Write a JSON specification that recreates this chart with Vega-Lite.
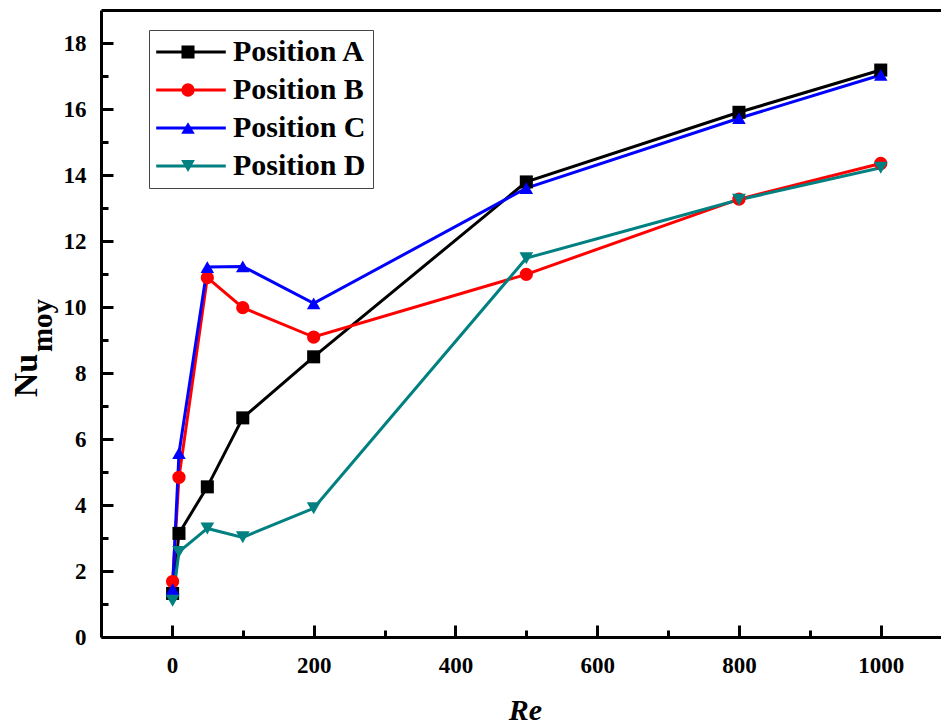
{
  "$schema": "https://vega.github.io/schema/vega-lite/v6.json",
  "width": 840,
  "height": 627,
  "autosize": {"type": "none"},
  "padding": {"left": 101, "top": 10, "right": 0, "bottom": 87},
  "background": "white",
  "config": {
    "view": {"stroke": null},
    "font": "Times New Roman, Liberation Serif, DejaVu Serif, serif",
    "axis": {
      "grid": false,
      "labelFont": "Times New Roman, Liberation Serif, DejaVu Serif, serif",
      "labelFontSize": 23,
      "labelFontWeight": "bold",
      "labelColor": "black",
      "domainColor": "black",
      "tickColor": "black",
      "domainWidth": 3,
      "tickWidth": 3,
      "titleFont": "Times New Roman, Liberation Serif, DejaVu Serif, serif",
      "titleColor": "black",
      "titleFontWeight": "bold"
    },
    "legend": {
      "labelFont": "Times New Roman, Liberation Serif, DejaVu Serif, serif"
    }
  },
  "data": {
    "values": [
      {"series": "Position A", "Re": 1, "Nu": 1.32},
      {"series": "Position A", "Re": 10, "Nu": 3.14},
      {"series": "Position A", "Re": 50, "Nu": 4.55},
      {"series": "Position A", "Re": 100, "Nu": 6.64},
      {"series": "Position A", "Re": 200, "Nu": 8.49},
      {"series": "Position A", "Re": 500, "Nu": 13.79},
      {"series": "Position A", "Re": 800, "Nu": 15.9},
      {"series": "Position A", "Re": 1000, "Nu": 17.18},
      {"series": "Position B", "Re": 1, "Nu": 1.68},
      {"series": "Position B", "Re": 10, "Nu": 4.84},
      {"series": "Position B", "Re": 50, "Nu": 10.89},
      {"series": "Position B", "Re": 100, "Nu": 9.98},
      {"series": "Position B", "Re": 200, "Nu": 9.09},
      {"series": "Position B", "Re": 500, "Nu": 10.99},
      {"series": "Position B", "Re": 800, "Nu": 13.27},
      {"series": "Position B", "Re": 1000, "Nu": 14.35},
      {"series": "Position C", "Re": 1, "Nu": 1.45},
      {"series": "Position C", "Re": 10, "Nu": 5.57},
      {"series": "Position C", "Re": 50, "Nu": 11.21},
      {"series": "Position C", "Re": 100, "Nu": 11.23},
      {"series": "Position C", "Re": 200, "Nu": 10.11},
      {"series": "Position C", "Re": 500, "Nu": 13.6},
      {"series": "Position C", "Re": 800, "Nu": 15.72},
      {"series": "Position C", "Re": 1000, "Nu": 17.03},
      {"series": "Position D", "Re": 1, "Nu": 1.1},
      {"series": "Position D", "Re": 10, "Nu": 2.58},
      {"series": "Position D", "Re": 50, "Nu": 3.29},
      {"series": "Position D", "Re": 100, "Nu": 3.02},
      {"series": "Position D", "Re": 200, "Nu": 3.9},
      {"series": "Position D", "Re": 500, "Nu": 11.48},
      {"series": "Position D", "Re": 800, "Nu": 13.25},
      {"series": "Position D", "Re": 1000, "Nu": 14.22}
    ]
  },
  "layer": [
    {
      "mark": {"type": "line", "strokeWidth": 3},
      "encoding": {
        "x": {
          "field": "Re", "type": "quantitative",
          "scale": {"domain": [-100, 1085], "nice": false, "zero": false},
          "axis": {
            "orient": "bottom",
            "values": [0, 200, 400, 600, 800, 1000],
            "format": "d",
            "tickSize": -12,
            "labelPadding": 29,
            "title": "Re",
            "titleFontSize": 30,
            "titleFontStyle": "italic",
            "titleX": 424,
            "titleY": 82,
            "titleAlign": "center",
            "titleBaseline": "alphabetic"
          }
        },
        "y": {
          "field": "Nu", "type": "quantitative",
          "scale": {"domain": [0, 19], "nice": false},
          "axis": {
            "orient": "left",
            "values": [0, 2, 4, 6, 8, 10, 12, 14, 16, 18],
            "format": "d",
            "tickSize": -12,
            "labelPadding": 27,
            "title": "Nu",
            "titleFontSize": 34,
            "titleAngle": 270,
            "titleX": -65,
            "titleY": 365,
            "titleAlign": "center",
            "titleBaseline": "alphabetic"
          }
        },
        "color": {
          "field": "series", "type": "nominal",
          "scale": {
            "domain": ["Position A", "Position B", "Position C", "Position D"],
            "range": ["#000000", "#FF0000", "#0000FF", "#008080"]
          },
          "legend": {
            "title": null,
            "orient": "none",
            "legendX": 48,
            "legendY": 20,
            "padding": 7,
            "symbolType": "M-5.8,0H5.8",
            "symbolSize": 144,
            "symbolStrokeWidth": 3,
            "symbolOffset": 20,
            "labelOffset": 27,
            "rowPadding": 8,
            "strokeColor": "#444444",
            "labelFontSize": 30,
            "labelFontWeight": "bold",
            "labelColor": "black",
            "zindex": 1
          }
        }
      }
    },
    {
      "mark": {"type": "point", "filled": true, "opacity": 1},
      "encoding": {
        "x": {
          "field": "Re", "type": "quantitative",
          "axis": {"orient": "top", "ticks": false, "labels": false, "title": null, "domain": true}
        },
        "y": {
          "field": "Nu", "type": "quantitative",
          "axis": {
            "orient": "left",
            "values": [1, 3, 5, 7, 9, 11, 13, 15, 17],
            "tickSize": -7,
            "labels": false,
            "domain": false,
            "title": "moy",
            "titleFontSize": 29,
            "titleAngle": 270,
            "titleX": -50,
            "titleY": 315,
            "titleAlign": "center",
            "titleBaseline": "alphabetic"
          }
        },
        "fill": {
          "field": "series", "type": "nominal",
          "scale": {"range": ["#000000", "#FF0000", "#0000FF", "#008080"]},
          "legend": {
            "title": null,
            "orient": "none",
            "legendX": 48,
            "legendY": 20,
            "padding": 7,
            "symbolOffset": 17,
            "labelOffset": 8,
            "rowPadding": 8,
            "labelFontSize": 30,
            "labelFontWeight": "bold",
            "labelExpr": "' '",
            "labelOpacity": 0,
            "symbolOpacity": 1,
            "zindex": 2
          }
        },
        "shape": {
          "field": "series", "type": "nominal",
          "scale": {"range": ["square", "circle", "triangle-up", "triangle-down"]},
          "legend": {
            "title": null,
            "orient": "none",
            "legendX": 48,
            "legendY": 20,
            "padding": 7,
            "symbolOffset": 17,
            "labelOffset": 8,
            "rowPadding": 8,
            "labelFontSize": 30,
            "labelFontWeight": "bold",
            "labelExpr": "' '",
            "labelOpacity": 0,
            "symbolOpacity": 1,
            "zindex": 2
          }
        },
        "size": {
          "field": "series", "type": "nominal",
          "scale": {"range": [170, 190, 310, 310]},
          "legend": {
            "title": null,
            "orient": "none",
            "legendX": 48,
            "legendY": 20,
            "padding": 7,
            "symbolOffset": 17,
            "labelOffset": 8,
            "rowPadding": 8,
            "labelFontSize": 30,
            "labelFontWeight": "bold",
            "labelExpr": "' '",
            "labelOpacity": 0,
            "symbolOpacity": 1,
            "zindex": 2
          }
        }
      }
    },
    {
      "mark": {"type": "point", "opacity": 0},
      "encoding": {
        "x": {
          "field": "Re", "type": "quantitative",
          "axis": {
            "orient": "bottom",
            "values": [100, 300, 500, 700, 900],
            "tickSize": -7,
            "labels": false,
            "domain": false,
            "title": null
          }
        },
        "y": {"field": "Nu", "type": "quantitative", "axis": null}
      }
    }
  ],
  "resolve": {"axis": {"x": "independent", "y": "independent"}}
}
